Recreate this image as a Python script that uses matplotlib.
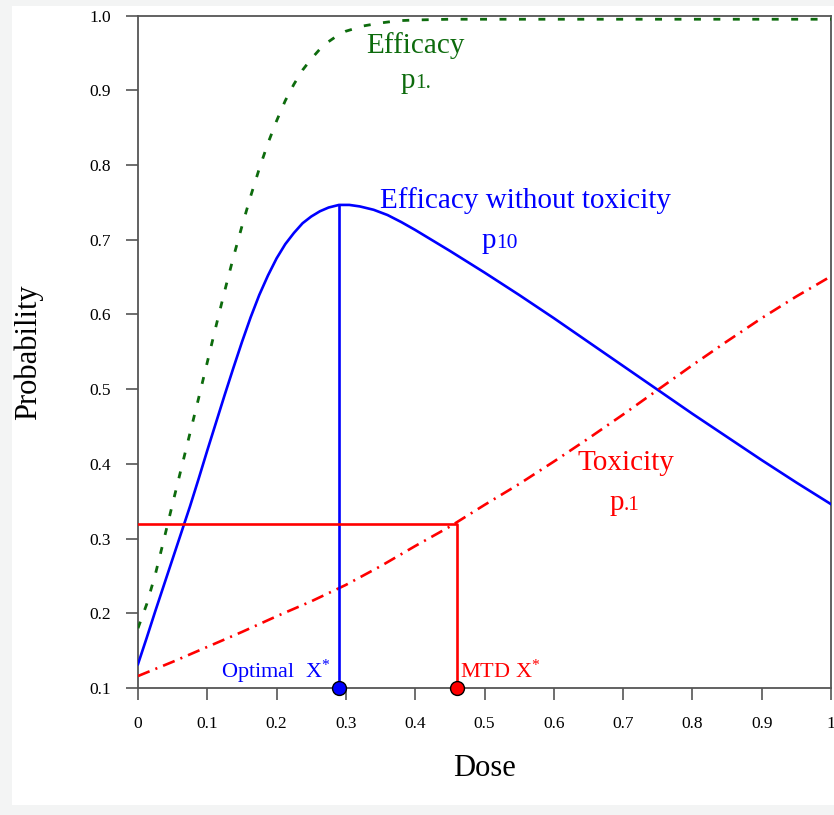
import matplotlib
matplotlib.use("Agg")
import matplotlib.pyplot as plt
from matplotlib.patches import Rectangle

plt.rcParams['font.family'] = ['Liberation Serif', 'DejaVu Serif']
plt.rcParams['mathtext.fontset'] = 'custom'
plt.rcParams['mathtext.rm'] = 'Liberation Serif'
plt.rcParams['mathtext.it'] = 'Liberation Serif:italic'
plt.rcParams['lines.scale_dashes'] = False

# ---- data ----
dose_eff = [0.0, 0.0125, 0.025, 0.0375, 0.05, 0.0625, 0.075, 0.0875, 0.1, 0.1125,
            0.125, 0.1375, 0.15, 0.1625, 0.175, 0.1875, 0.2, 0.2125, 0.225, 0.2375,
            0.25, 0.2625, 0.275, 0.2875, 0.3, 0.325, 0.35, 0.375, 0.4, 0.45, 0.5,
            0.6, 0.7, 0.8, 0.9, 1.0]
efficacy = [0.180, 0.212, 0.252, 0.299, 0.347, 0.394, 0.441, 0.488, 0.536, 0.584,
            0.631, 0.676, 0.718, 0.758, 0.795, 0.829, 0.859, 0.886, 0.908, 0.927,
            0.942, 0.955, 0.965, 0.973, 0.979, 0.986, 0.990, 0.993, 0.994, 0.995, 0.995,
            0.995, 0.995, 0.995, 0.995, 0.995]

dose_p10 = [0.0, 0.0125, 0.025, 0.0375, 0.05, 0.0625, 0.075, 0.0875, 0.1, 0.1125,
            0.125, 0.1375, 0.15, 0.1625, 0.175, 0.1875, 0.2, 0.2125, 0.225, 0.2375,
            0.25, 0.2625, 0.275, 0.29, 0.305, 0.32, 0.34, 0.36, 0.38, 0.4, 0.45,
            0.5, 0.55, 0.6, 0.65, 0.7, 0.75, 0.8, 0.85, 0.9, 0.95, 1.0]
eff_no_tox = [0.132, 0.167, 0.203, 0.238, 0.273, 0.308, 0.343, 0.380, 0.418, 0.455,
              0.492, 0.528, 0.563, 0.596, 0.626, 0.652, 0.675, 0.694, 0.709, 0.722,
              0.731, 0.738, 0.743, 0.7465, 0.7465, 0.7445, 0.740, 0.733, 0.7235, 0.713,
              0.685, 0.656, 0.626, 0.595, 0.563, 0.531, 0.499, 0.467, 0.436, 0.405,
              0.375, 0.346]

dose_tox = [0.0, 0.05, 0.1, 0.15, 0.2, 0.25, 0.3, 0.35, 0.4, 0.45, 0.5, 0.55, 0.6,
            0.65, 0.7, 0.75, 0.8, 0.85, 0.9, 0.95, 1.0]
toxicity = [0.116, 0.135, 0.155, 0.175, 0.196, 0.216, 0.238, 0.263, 0.290, 0.316,
            0.345, 0.373, 0.403, 0.434, 0.466, 0.499, 0.532, 0.564, 0.595, 0.624, 0.651]

optimal_dose = 0.29
optimal_peak = 0.7465
mtd_dose = 0.46
mtd_level = 0.32
y_floor = 0.1

xticks = [0, 0.1, 0.2, 0.3, 0.4, 0.5, 0.6, 0.7, 0.8, 0.9, 1.0]
xticklabels = ['0', '0.1', '0.2', '0.3', '0.4', '0.5', '0.6', '0.7', '0.8', '0.9', '1']
yticks = [0.1, 0.2, 0.3, 0.4, 0.5, 0.6, 0.7, 0.8, 0.9, 1.0]
yticklabels = ['0.1', '0.2', '0.3', '0.4', '0.5', '0.6', '0.7', '0.8', '0.9', '1.0']

GREEN = '#0d6b0d'
BLUE = '#0000ff'
RED = '#ff0000'

W, H = 834, 815
fig = plt.figure(figsize=(W / 100, H / 100), dpi=100)
fig.patch.set_facecolor('#f3f4f4')
bg = Rectangle((12 / W, 1 - 805 / H), 1 - 12 / W, (805 - 6) / H,
               transform=fig.transFigure, facecolor='white', edgecolor='none')
bg.set_zorder(-10)
fig.add_artist(bg)

ax = fig.add_axes([138 / W, 1 - 688 / H, (831 - 138) / W, (688 - 15.5) / H])
ax.set_zorder(1)
ax.set_facecolor('white')
ax.set_xlim(0, 1)
ax.set_ylim(0.1, 1.0)

ax.plot(dose_eff, efficacy, color=GREEN, lw=2.0, linestyle=(0, (5, 9)), zorder=3)
ax.plot(dose_p10, eff_no_tox, color=BLUE, lw=1.9, zorder=3)
ax.plot(dose_tox, toxicity, color=RED, lw=1.9, linestyle=(0, (9, 4.5, 1.5, 4.5)), zorder=3)

# reference lines
ax.plot([optimal_dose, optimal_dose], [y_floor, optimal_peak], color=BLUE, lw=1.9, zorder=3)
ax.plot([0, mtd_dose, mtd_dose], [mtd_level, mtd_level, y_floor], color=RED, lw=1.9, zorder=3)

ax.plot([optimal_dose], [y_floor], 'o', ms=10, mfc=BLUE, mec='black', mew=1.0,
        zorder=5, clip_on=False)
ax.plot([mtd_dose], [y_floor], 'o', ms=10, mfc=RED, mec='black', mew=1.0,
        zorder=5, clip_on=False)

# labels on curves
fs_big = 21
fs_sub = 15.5
ax.text(0.329, 0.950, 'Efficacy', color=GREEN, fontsize=fs_big, ha='left', va='baseline')
ax.text(0.400, 0.903, 'p', color=GREEN, fontsize=fs_big, ha='right', va='baseline')
ax.text(0.400, 0.903, '1.', color=GREEN, fontsize=fs_sub, ha='left', va='baseline')

ax.text(0.349, 0.743, 'Efficacy without toxicity', color=BLUE, fontsize=fs_big,
        ha='left', va='baseline')
ax.text(0.517, 0.689, 'p', color=BLUE, fontsize=fs_big, ha='right', va='baseline')
ax.text(0.517, 0.689, '10', color=BLUE, fontsize=fs_sub, ha='left', va='baseline')

ax.text(0.634, 0.392, 'Toxicity', color=RED, fontsize=fs_big, ha='left', va='baseline')
ax.text(0.701, 0.338, 'p', color=RED, fontsize=fs_big, ha='right', va='baseline')
ax.text(0.701, 0.338, '.1', color=RED, fontsize=fs_sub, ha='left', va='baseline')

ax.text(0.278, 0.1134, r'Optimal  X$^{*}$', color=BLUE, fontsize=16,
        ha='right', va='baseline')
ax.text(0.465, 0.1134, r'MTD X$^{*}$', color=RED, fontsize=16,
        ha='left', va='baseline')

# axes styling
for s in ax.spines.values():
    s.set_color('#555555')
    s.set_linewidth(1.3)
ax.set_xticks(xticks)
ax.set_xticklabels(xticklabels)
ax.set_yticks(yticks)
ax.set_yticklabels(yticklabels)
ax.tick_params(axis='both', direction='out', length=8.5, width=1.2, color='#555555',
               labelsize=12.5, labelcolor='black')
ax.tick_params(axis='x', pad=12)
ax.tick_params(axis='y', pad=11)

fig.text(484 / W, 1 - 768 / H, 'Dose', fontsize=22, ha='center', va='center')
fig.text(28 / W, 1 - 352 / H, 'Probability', fontsize=22, ha='center', va='center',
         rotation=90)

fig.savefig('out.png', dpi=100, facecolor=fig.get_facecolor())
